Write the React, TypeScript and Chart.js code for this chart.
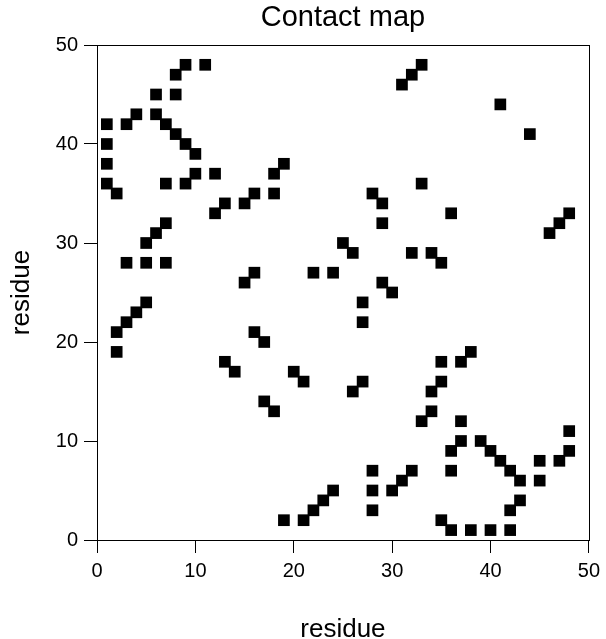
import React, { useEffect, useRef } from "react";
import { Chart, registerables } from "chart.js";

Chart.register(...registerables);

const chartTitle = "Contact map";
const xAxisTitle = "residue";
const yAxisTitle = "residue";
const tickValues = [0, 10, 20, 30, 40, 50];

// residue i (x) and residue j (y) of each contact
const residueI = [
  1, 1, 1, 1, 2, 3, 4, 6, 6, 7, 8, 9, 10, 8, 8, 9, 11, 7, 9, 10, 12, 12, 13, 15, 16, 18, 18, 19,
  31, 32, 33, 28, 29, 33, 41, 44, 36, 48, 47, 46, 34, 35, 32, 35, 37, 38,
  7, 6, 5, 3, 5, 7, 16, 15, 5, 4, 3, 2, 2, 16, 13, 14,
  29, 25, 26, 22, 24, 29, 30, 27, 27, 17, 20, 21, 17, 18, 26, 27,
  19, 21, 22, 23, 24, 28, 28, 28, 30, 31, 32,
  35, 34, 34, 33, 37, 37, 36, 36, 39, 40, 41, 42, 43, 45, 45, 47, 48, 48, 43, 42, 35, 36, 38, 40, 42,
];
const residueJ = [
  42, 40, 38, 36, 35, 42, 43, 45, 43, 42, 41, 40, 39, 45, 47, 48, 48, 36, 36, 37, 37, 33, 34, 34, 35, 35, 37, 38,
  46, 47, 48, 35, 34, 36, 44, 41, 33, 33, 32, 31, 29, 28, 29, 18, 18, 19,
  32, 31, 30, 28, 28, 28, 27, 26, 24, 23, 22, 21, 19, 21, 18, 17,
  32, 30, 29, 27, 27, 26, 25, 24, 22, 20, 17, 16, 14, 13, 15, 16,
  2, 2, 3, 4, 5, 7, 5, 3, 5, 6, 7,
  16, 15, 13, 12, 12, 10, 9, 7, 10, 9, 8, 7, 6, 8, 6, 8, 9, 11, 4, 3, 2, 1, 1, 1, 1,
];

const FONT = "'Liberation Sans', Arial, Helvetica, sans-serif";

const frameAndTitles = {
  id: "frameAndTitles",
  afterDraw(chart: any) {
    const { ctx, chartArea } = chart;
    const { left, right, top, bottom } = chartArea;
    const cx = (left + right) / 2;
    const cy = (top + bottom) / 2;
    ctx.save();
    ctx.strokeStyle = "#000";
    ctx.lineWidth = 1;
    ctx.strokeRect(Math.round(left) + 0.5, Math.round(top) + 0.5, Math.round(right - left), Math.round(bottom - top));
    ctx.fillStyle = "#000";
    ctx.textAlign = "center";
    ctx.textBaseline = "alphabetic";
    ctx.font = `29px ${FONT}`;
    ctx.fillText(chartTitle, cx, 26);
    ctx.font = `26px ${FONT}`;
    ctx.fillText(xAxisTitle, cx, 637);
    ctx.translate(29, cy);
    ctx.rotate(-Math.PI / 2);
    ctx.fillText(yAxisTitle, 0, 0);
    ctx.restore();
  },
};

export default function App() {
  const ref = useRef<HTMLCanvasElement | null>(null);

  useEffect(() => {
    document.body.style.margin = "0";
    const canvas = ref.current;
    if (!canvas) return;
    const points = residueI.map((x, i) => ({ x, y: residueJ[i] }));
    const tickFont = { family: FONT, size: 20 };
    const chart = new Chart(canvas, {
      type: "scatter",
      data: {
        datasets: [
          {
            data: points,
            pointStyle: "rect",
            pointRadius: 8.27,
            pointHoverRadius: 8.27,
            backgroundColor: "#000",
            borderWidth: 0,
          },
        ],
      },
      options: {
        responsive: false,
        animation: false,
        devicePixelRatio: 1,
        layout: { padding: { left: 0, right: 12, top: 45, bottom: 0 } },
        plugins: {
          legend: { display: false },
          tooltip: { enabled: false },
          title: { display: false },
        },
        scales: {
          x: {
            type: "linear",
            min: 0,
            max: 50,
            afterFit: (s: any) => {
              s.height = 99;
            },
            afterBuildTicks: (s: any) => {
              s.ticks = tickValues.map((v) => ({ value: v }));
            },
            grid: {
              drawOnChartArea: false,
              drawTicks: true,
              tickLength: 13,
              tickColor: "#000",
              tickWidth: 1,
            },
            border: { display: true, color: "#000", width: 1 },
            ticks: {
              color: "#000",
              font: tickFont,
              padding: 6,
              maxRotation: 0,
              autoSkip: false,
            },
          },
          y: {
            type: "linear",
            min: 0,
            max: 50,
            afterFit: (s: any) => {
              s.width = 97;
            },
            afterBuildTicks: (s: any) => {
              s.ticks = tickValues.map((v) => ({ value: v }));
            },
            grid: {
              drawOnChartArea: false,
              drawTicks: true,
              tickLength: 13,
              tickColor: "#000",
              tickWidth: 1,
            },
            border: { display: true, color: "#000", width: 1 },
            ticks: {
              color: "#000",
              font: tickFont,
              padding: 6,
              autoSkip: false,
            },
          },
        },
      },
      plugins: [frameAndTitles],
    });
    return () => chart.destroy();
  }, []);

  return (
    <div style={{ position: "absolute", left: 0, top: 0, width: 606, height: 639, background: "#fff" }}>
      <canvas ref={ref} width={606} height={639} style={{ width: 606, height: 639, display: "block" }} />
    </div>
  );
}
